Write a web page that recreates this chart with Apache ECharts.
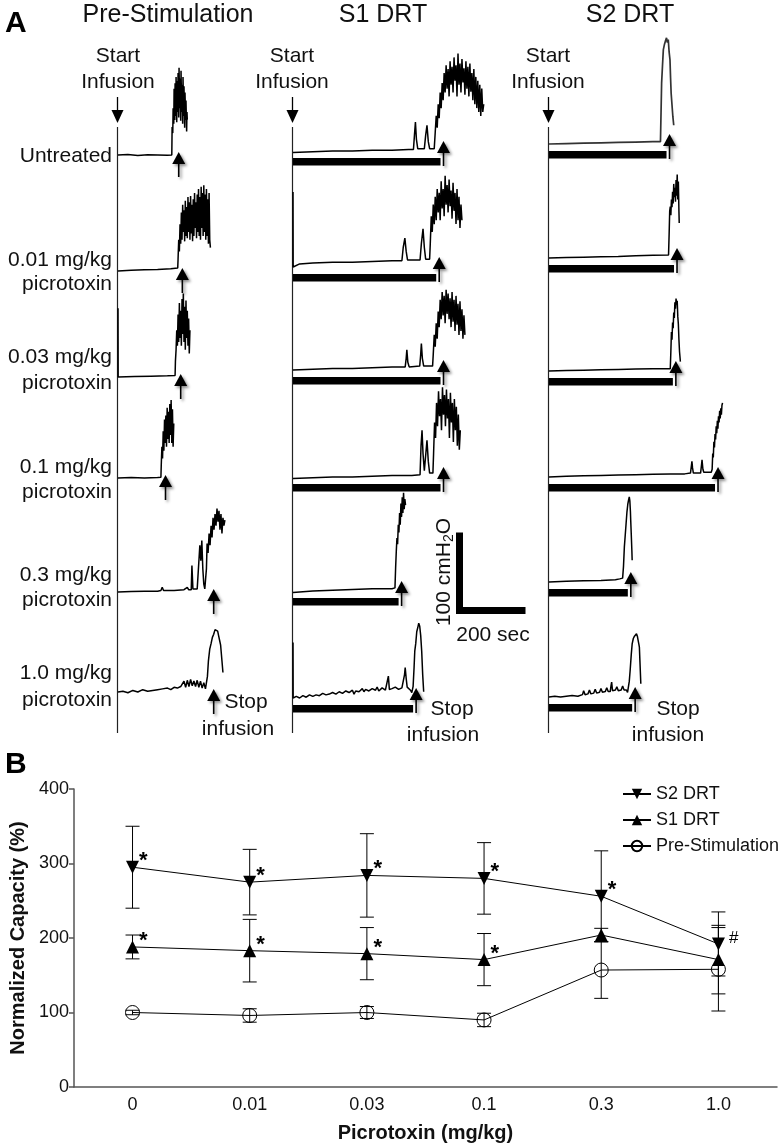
<!DOCTYPE html>
<html><head><meta charset="utf-8">
<script src="https://cdn.jsdelivr.net/npm/echarts/dist/echarts.min.js"></script>
<style>html,body{margin:0;padding:0;background:#fff}#c{width:780px;height:1147px}</style>
</head><body><div id="c"></div>
<script>
// ---------------- DATA ----------------
// Panel A: cystometrogram traces, [time (s), pressure (cmH2O above baseline)]
const rowLabels = [['Untreated'], ['0.01 mg/kg', 'picrotoxin'], ['0.03 mg/kg', 'picrotoxin'], ['0.1 mg/kg', 'picrotoxin'], ['0.3 mg/kg', 'picrotoxin'], ['1.0 mg/kg', 'picrotoxin']];
const columnTitles = ['Pre-Stimulation', 'S1 DRT', 'S2 DRT'];

const preStimTraces = [
  [[0,0],[30,0.5],[60,-0.5],[90,0.3],[120,0],[150,-0.3],[163,0],[164,36],[166,28],[167,60],[169,40],[170,85],[172,45],[173,92],[175,50],[176,100],[178,42],[179,95],[181,55],[182,105],[184,48],[185,112],[187,60],[188,98],[190,44],[191,108],[193,55],[194,90],[196,40],[197,100],[199,50],[200,88],[202,35],[203,80],[205,45],[206,70],[208,30],[209,55],[210,45]],
  [[0,0],[40,1],[80,1.5],[120,2],[160,3],[181,4],[182,15],[184,40],[186,25],[188,60],[190,35],[192,75],[194,40],[196,85],[198,50],[200,78],[202,38],[204,90],[206,45],[208,82],[210,42],[212,95],[214,50],[216,88],[218,40],[220,96],[222,48],[224,85],[226,38],[228,92],[230,45],[232,100],[234,55],[236,88],[238,42],[240,98],[242,50],[244,105],[246,45],[248,95],[250,40],[252,108],[254,55],[256,100],[258,45],[260,110],[262,50],[264,98],[266,40],[268,105],[270,45],[272,92],[274,35],[276,100],[278,40],[280,30]],
  [[0,88],[0.5,0],[50,0.5],[100,1],[150,1.5],[173,2],[174,20],[176,35],[178,60],[180,40],[182,80],[184,45],[186,95],[188,50],[190,85],[192,40],[194,100],[196,55],[198,107],[200,45],[202,90],[204,35],[206,98],[208,50],[210,85],[212,40],[214,75],[216,30],[218,60]],
  [[0,0],[40,0.5],[80,0],[120,0.5],[130,1],[131,15],[133,40],[135,25],[137,60],[139,35],[141,75],[143,45],[145,80],[147,40],[149,90],[151,50],[153,85],[155,45],[157,95],[159,55],[161,100],[163,45],[165,88],[167,40],[169,70]],
  [[0,0],[40,0.5],[80,1],[120,1],[130,2],[134,6],[138,2],[170,2],[200,3],[210,6],[214,3],[222,3],[224,34],[227,4],[240,4],[248,60],[251,40],[254,66],[257,30],[260,10],[263,4],[266,4],[268,30],[270,62],[273,50],[276,75],[279,60],[282,85],[285,70],[288,95],[291,80],[294,100],[297,85],[300,107],[303,90],[306,104],[309,80],[312,100],[315,75],[318,95],[321,85],[324,92]],
  [[0,0],[15,1],[30,-1],[45,2],[60,0],[75,3],[90,1],[105,2],[120,3],[135,4],[150,5],[160,3],[170,6],[180,5],[190,7],[200,14],[205,6],[210,15],[215,7],[220,16],[225,8],[230,14],[235,7],[240,15],[245,6],[250,14],[255,5],[260,12],[265,4],[268,2],[271,20],[274,40],[278,55],[282,62],[286,70],[290,74],[294,80],[298,82],[302,78],[305,72],[308,66],[311,60],[315,40],[318,25]]
];
const s1Traces = [
  [[0,-2],[60,-1],[120,0],[180,0],[240,1],[300,1],[350,2],[365,2],[368,20],[371,37],[374,15],[378,3],[398,3],[402,20],[406,33],[410,12],[414,3],[428,3],[431,24],[434,45],[437,30],[440,60],[443,42],[446,75],[449,55],[452,87],[455,65],[458,100],[461,75],[464,110],[467,80],[470,105],[473,70],[476,115],[479,85],[482,108],[485,75],[488,120],[491,90],[494,110],[497,70],[500,125],[503,85],[506,112],[509,75],[512,118],[515,88],[518,106],[521,72],[524,115],[527,80],[530,108],[533,70],[536,112],[539,76],[542,100],[545,65],[548,105],[551,60],[554,95],[557,55],[560,90],[563,50],[566,85],[569,45],[572,80],[575,50],[578,60]],
  [[0,96],[0.5,0],[20,4],[60,5],[120,6],[180,6],[240,7],[300,8],[330,8],[334,25],[339,37],[343,20],[347,9],[385,9],[389,30],[394,49],[398,25],[402,10],[414,10],[416,30],[419,65],[422,45],[425,80],[428,55],[431,90],[434,60],[437,100],[440,70],[443,95],[446,60],[449,110],[452,75],[455,100],[458,65],[461,117],[464,80],[467,105],[470,70],[473,112],[476,78],[479,98],[482,62],[485,108],[488,72],[491,95],[494,55],[497,100],[500,60],[503,90],[506,50],[509,80],[512,60]],
  [[0,0],[60,1],[120,2],[180,2],[240,3],[300,4],[340,4],[343,15],[345,26],[348,10],[352,4],[384,5],[387,20],[389,34],[392,15],[396,5],[423,5],[425,20],[428,45],[431,30],[434,60],[437,40],[440,75],[443,55],[446,90],[449,65],[452,100],[455,70],[458,95],[461,60],[464,103],[467,72],[470,98],[473,65],[476,92],[479,55],[482,100],[485,62],[488,90],[491,50],[494,95],[497,58],[500,85],[503,45],[506,88],[509,50],[512,78],[515,40],[518,70],[521,45]],
  [[0,-2],[60,-1],[120,0],[180,0],[240,1],[300,2],[360,2],[385,3],[388,40],[391,60],[394,30],[398,8],[402,10],[406,47],[410,20],[414,5],[424,5],[426,30],[429,70],[432,50],[435,95],[438,65],[441,110],[444,78],[447,100],[450,60],[453,115],[456,80],[459,105],[462,65],[465,112],[468,75],[471,100],[474,50],[477,108],[480,70],[483,95],[486,45],[489,100],[492,60],[495,90],[498,40],[501,80],[504,35],[507,60]],
  [[0,-2],[60,0],[120,1],[180,2],[240,3],[300,3],[309,4],[311,30],[313,51],[315,68],[317,60],[319,85],[321,75],[323,100],[325,85],[327,112],[329,95],[331,120],[333,100],[335,126],[337,105],[339,118],[341,110]],
  [[0,71],[0.5,0],[10,2],[20,0],[30,3],[40,1],[50,4],[60,2],[70,4],[80,3],[90,6],[100,4],[110,5],[120,7],[130,5],[140,8],[150,6],[160,9],[170,7],[180,10],[185,5],[190,9],[200,8],[210,12],[215,8],[220,11],[230,9],[240,12],[250,10],[255,14],[260,9],[270,13],[280,10],[286,12],[289,28],[292,11],[300,12],[310,14],[320,11],[330,13],[336,14],[338,30],[340,39],[343,25],[346,14],[352,12],[356,10],[360,7],[364,15],[367,40],[369,60],[372,70],[375,85],[378,90],[381,96],[384,92],[387,80],[390,60],[393,30],[396,8]]
];
const s2Traces = [
  [[0,0],[60,0.5],[120,1],[180,1.5],[240,2],[300,2.5],[360,3],[386,3],[388,40],[390,78],[393,100],[396,121],[400,128],[404,133],[407,136],[410,130],[413,134],[416,118],[419,108],[421,85],[423,65],[426,50],[429,35],[432,24]],
  [[0,0],[60,0.5],[120,1],[180,1.5],[240,2],[300,3],[360,3.5],[414,4],[416,30],[418,60],[420,66],[422,55],[424,75],[426,65],[428,85],[430,70],[432,95],[434,78],[436,90],[438,72],[440,100],[442,80],[444,107],[446,75],[448,98],[450,60],[451,45]],
  [[0,0],[60,0.5],[120,1],[180,1.5],[240,2],[300,2.5],[360,3],[420,3],[422,25],[424,50],[426,40],[428,62],[430,55],[432,75],[434,68],[436,88],[438,80],[440,93],[442,85],[444,90],[446,70],[448,60],[450,40],[452,25],[455,12]],
  [[0,0],[60,1],[120,1.5],[180,2],[240,2.5],[300,3],[360,3.5],[420,4],[470,4],[490,5],[493,14],[495,20],[497,12],[500,5],[525,5],[528,15],[530,22],[533,10],[536,6],[562,6],[565,10],[567,30],[569,25],[571,45],[573,38],[575,55],[577,48],[579,65],[581,56],[583,72],[585,62],[587,78],[589,70],[591,85],[593,75],[595,88],[597,80],[599,92],[601,95]],
  [[0,0],[60,1],[120,1.5],[180,2],[230,3],[245,4],[250,6],[255,5],[258,20],[261,45],[264,60],[267,75],[270,90],[273,100],[276,106],[278,109],[280,104],[282,90],[283,79],[285,60],[287,40],[288,28]],
  [[0,0],[20,1],[40,0],[60,1],[80,2],[100,1],[116,3],[120,8],[125,3],[135,4],[140,9],[145,4],[155,5],[160,10],[165,5],[175,6],[180,11],[185,6],[195,7],[200,12],[205,7],[212,7],[215,15],[217,19],[220,8],[230,9],[235,13],[240,8],[250,9],[255,14],[260,9],[268,9],[272,6],[276,8],[278,20],[281,34],[285,55],[288,68],[292,75],[296,78],[300,80],[303,81],[306,78],[309,72],[311,68],[313,64],[315,45],[318,17]]
];
// time (s) at which infusion was stopped (arrow); S1/S2 also have infusion bars
const preStopTimes = [184, 195, 190, 144, 290, 290];
const s1StopTimes = [447, 434, 447, 447, 320, 364];
const s2StopTimes = [407, 433, 429, 575, 273, 288];
const scaleBar = [200, 100]; // 200 sec, 100 cmH2O

// Panel B
const doseLabels = ['0', '0.01', '0.03', '0.1', '0.3', '1.0'];
const s2Mean = [295, 275, 284, 280, 256, 192];
const s2Err = [55, 44, 56, 48, 61, 43];
const s1Mean = [188, 183, 179, 171, 204, 171];
const s1Err = [16, 42, 35, 35, 9, 46];
const preMean = [100, 96, 100, 90, 157, 158];
const preErr = [3, 9, 8, 9, 38, 56];
const s2Sig = ['*', '*', '*', '*', '*', '#'];
const s1Sig = ['*', '*', '*', '*', '', ''];
const yTicks = [0, 100, 200, 300, 400];

// ---------------- LAYOUT ----------------
const FONT = 'Liberation Sans, Arial, sans-serif';
const PX_PER_S = 0.33, PX_PER_CM = 0.78;
const T_MAX = 800, P_MIN = -40, P_MAX = 160;
const colX = [118, 293, 549];
const colBase = [
  [155, 271, 377, 478, 592, 692],
  [151, 267, 370, 477, 591, 698],
  [144, 258, 371, 477, 582, 697]
];
const traceSets = [preStimTraces, s1Traces, s2Traces];
const stopSets = [preStopTimes, s1StopTimes, s2StopTimes];

const grids = [], xAxes = [], yAxes = [], series = [];
function addTraceGrid(left, base) {
  const idx = grids.length;
  grids.push({left: left, top: base - P_MAX * PX_PER_CM, width: T_MAX * PX_PER_S, height: (P_MAX - P_MIN) * PX_PER_CM, containLabel: false});
  xAxes.push({type: 'value', gridIndex: idx, min: 0, max: T_MAX, show: false});
  yAxes.push({type: 'value', gridIndex: idx, min: P_MIN, max: P_MAX, show: false});
  return idx;
}

function infusionRender(params, api) {
  const stop = api.value(0), hasBar = api.value(1);
  const p0 = api.coord([0, 0]);
  const ps = api.coord([stop, 0]);
  const children = [];
  let ax, tipY, headBase, stemBottom;
  if (hasBar) {
    children.push({type: 'rect', shape: {x: p0[0], y: p0[1] + 7, width: ps[0] - p0[0], height: 7.5}, style: {fill: '#000'}});
    ax = ps[0] + 3; tipY = p0[1] - 10; headBase = p0[1] + 2; stemBottom = p0[1] + 15;
  } else {
    ax = ps[0]; tipY = p0[1] - 3; headBase = p0[1] + 9; stemBottom = p0[1] + 22;
  }
  const sh = {shadowBlur: 3, shadowOffsetX: 2, shadowOffsetY: 2, shadowColor: 'rgba(0,0,0,0.45)'};
  children.push({type: 'line', shape: {x1: ax, y1: headBase, x2: ax, y2: stemBottom}, style: Object.assign({stroke: '#000', lineWidth: 1.6}, sh)});
  children.push({type: 'polygon', shape: {points: [[ax, tipY], [ax - 6.5, headBase], [ax + 6.5, headBase]]}, style: Object.assign({fill: '#000'}, sh)});
  return {type: 'group', children: children};
}

for (let c = 0; c < 3; c++) {
  for (let r = 0; r < 6; r++) {
    const gi = addTraceGrid(colX[c], colBase[c][r]);
    series.push({type: 'line', xAxisIndex: gi, yAxisIndex: gi, data: traceSets[c][r], showSymbol: false, symbol: 'none', clip: false,
      lineStyle: {color: c === 2 && r === 0 ? '#333' : '#000', width: c === 2 && r === 0 ? 1.7 : 1.5}, silent: true, z: 3});
    series.push({type: 'custom', xAxisIndex: gi, yAxisIndex: gi, data: [[stopSets[c][r], c === 0 ? 0 : 1]], encode: {x: 0, y: 1},
      renderItem: infusionRender, clip: false, silent: true, z: 4});
  }
}

// scale bar grid (corner at 459.5, 610.5)
const sgi = addTraceGrid(459.5, 610.5);
series.push({type: 'custom', xAxisIndex: sgi, yAxisIndex: sgi, data: [scaleBar], encode: {x: 0, y: 1}, clip: false, silent: true,
  renderItem: function (params, api) {
    const o = api.coord([0, 0]);
    const h = api.coord([api.value(0), 0]);
    const v = api.coord([0, api.value(1)]);
    return {type: 'group', children: [
      {type: 'line', shape: {x1: o[0], y1: o[1] + 3.5, x2: v[0], y2: v[1]}, style: {stroke: '#000', lineWidth: 7}},
      {type: 'line', shape: {x1: o[0] - 3.5, y1: o[1], x2: h[0], y2: h[1]}, style: {stroke: '#000', lineWidth: 7}}
    ]};
  }});

// Panel B grid
const bgi = grids.length;
grids.push({left: 71, top: 789, right: 3, bottom: 60, containLabel: false});
const axisCol = '#555';
xAxes.push({type: 'category', gridIndex: bgi, data: doseLabels, boundaryGap: true,
  axisLine: {lineStyle: {color: axisCol, width: 1.5}},
  axisTick: {alignWithLabel: true, length: 5, lineStyle: {color: axisCol, width: 1.5}},
  axisLabel: {fontFamily: FONT, fontSize: 18, color: '#111', margin: 9},
  name: 'Picrotoxin (mg/kg)', nameLocation: 'middle', nameGap: 36,
  nameTextStyle: {fontFamily: FONT, fontSize: 20, fontWeight: 'bold', color: '#111'}});
yAxes.push({type: 'value', gridIndex: bgi, min: yTicks[0], max: yTicks[yTicks.length - 1], interval: yTicks[1] - yTicks[0],
  axisLine: {show: true, lineStyle: {color: axisCol, width: 1.5}},
  axisTick: {show: true, length: 5, lineStyle: {color: axisCol, width: 1.5}},
  splitLine: {show: false},
  axisLabel: {fontFamily: FONT, fontSize: 18, color: '#111', margin: 5},
  name: 'Normalized Capacity (%)', nameLocation: 'middle', nameGap: 42,
  nameTextStyle: {fontFamily: FONT, fontSize: 20, fontWeight: 'bold', color: '#111'}});

const errData = [];
[[s2Mean, s2Err], [s1Mean, s1Err], [preMean, preErr]].forEach(function (pair) {
  pair[0].forEach(function (m, i) { errData.push([i, m - pair[1][i], m + pair[1][i]]); });
});
series.push({type: 'custom', name: 'err', xAxisIndex: bgi, yAxisIndex: bgi, data: errData, encode: {x: 0, y: [1, 2]}, z: 2, silent: true,
  renderItem: function (params, api) {
    const lo = api.coord([api.value(0), api.value(1)]);
    const hi = api.coord([api.value(0), api.value(2)]);
    const w = 7, st = {stroke: '#000', lineWidth: 1};
    return {type: 'group', children: [
      {type: 'line', shape: {x1: lo[0], y1: lo[1], x2: hi[0], y2: hi[1]}, style: st},
      {type: 'line', shape: {x1: hi[0] - w, y1: hi[1], x2: hi[0] + w, y2: hi[1]}, style: st},
      {type: 'line', shape: {x1: lo[0] - w, y1: lo[1], x2: lo[0] + w, y2: lo[1]}, style: st}
    ]};
  }});

function sigLabel(arr) {
  return {show: true, position: 'right', distance: 0, offset: [0, -6], color: '#000',
    formatter: function (p) { const s = arr[p.dataIndex]; return s === '#' ? '{h|#}' : (s ? '{s|*}' : ''); },
    rich: {s: {fontFamily: FONT, fontSize: 22, fontWeight: 'bold', color: '#000'}, h: {fontFamily: FONT, fontSize: 17, color: '#000', padding: [0, 0, 0, 4]}}};
}
series.push({type: 'line', name: 'S2 DRT', xAxisIndex: bgi, yAxisIndex: bgi, data: s2Mean, symbol: 'triangle', symbolRotate: 180, symbolSize: 13,
  itemStyle: {color: '#000'}, lineStyle: {color: '#000', width: 1}, label: sigLabel(s2Sig), z: 5});
series.push({type: 'line', name: 'S1 DRT', xAxisIndex: bgi, yAxisIndex: bgi, data: s1Mean, symbol: 'triangle', symbolSize: 13,
  itemStyle: {color: '#000'}, lineStyle: {color: '#000', width: 1}, label: sigLabel(s1Sig), z: 5});
series.push({type: 'line', name: 'Pre-Stimulation', xAxisIndex: bgi, yAxisIndex: bgi, data: preMean, symbol: 'circle', symbolSize: 14,
  itemStyle: {color: 'rgba(255,255,255,0)', borderColor: '#000', borderWidth: 1}, lineStyle: {color: '#000', width: 1}, z: 5});

// ---------------- TEXT / DECORATION ----------------
const graphics = [];
function txt(x, y, s, opt) {
  graphics.push({type: 'text', x: x, y: y, silent: true, style: Object.assign({text: s, fontFamily: FONT, fontSize: 21, fill: '#111', textAlign: 'center', textVerticalAlign: 'middle'}, opt || {})});
}
txt(5, 24, 'A', {fontSize: 30, fontWeight: 'bold', textAlign: 'left', fill: '#000'});
txt(5, 765, 'B', {fontSize: 30, fontWeight: 'bold', textAlign: 'left', fill: '#000'});
const titleX = [168, 383, 630];
columnTitles.forEach(function (t, i) { txt(titleX[i], 15, t, {fontSize: 25}); });
const startX = [118, 292, 548];
colX.forEach(function (x, i) {
  const lx = [117.5, 292.5, 548.5][i];
  txt(startX[i], 56, 'Start', {fontSize: 21});
  txt(startX[i], 82, 'Infusion', {fontSize: 21});
  graphics.push({type: 'line', silent: true, shape: {x1: lx, y1: 97, x2: lx, y2: 112}, style: {stroke: '#000', lineWidth: 1.3}});
  graphics.push({type: 'polygon', silent: true, shape: {points: [[lx - 6, 110], [lx + 6, 110], [lx, 123]]}, style: {fill: '#000'}});
  graphics.push({type: 'line', silent: true, shape: {x1: lx, y1: 127, x2: lx, y2: 733}, style: {stroke: '#222', lineWidth: 1.2}});
});
const labelY = [[156], [260, 284], [357, 383], [467, 492], [575, 600], [673, 700]];
rowLabels.forEach(function (lines, r) {
  lines.forEach(function (l, k) { txt(112, labelY[r][k], l, {textAlign: 'right', fontSize: 21}); });
});
[[246, 702, 238, 729], [452, 709, 443, 735], [678, 709, 668, 735]].forEach(function (p) {
  txt(p[0], p[1], 'Stop', {fontSize: 21});
  txt(p[2], p[3], 'infusion', {fontSize: 21});
});
graphics.push({type: 'text', x: 444, y: 572, rotation: Math.PI / 2, silent: true,
  style: {text: '100 cmH{s|2}O', fontFamily: FONT, fontSize: 21, fill: '#111', textAlign: 'center', textVerticalAlign: 'middle',
    rich: {s: {fontFamily: FONT, fontSize: 14, fill: '#111', padding: [10, 0, 0, 0]}}}});
txt(493, 635, '200 sec', {fontSize: 21});

const chart = echarts.init(document.getElementById('c'), null, {renderer: 'canvas'});
chart.setOption({
  animation: false,
  backgroundColor: '#fff',
  grid: grids, xAxis: xAxes, yAxis: yAxes, series: series,
  legend: {data: ['S2 DRT', 'S1 DRT', 'Pre-Stimulation'], orient: 'vertical', left: 617, top: 780,
    itemWidth: 28, itemHeight: 13, itemGap: 8,
    textStyle: {fontFamily: FONT, fontSize: 18, color: '#111'}, selectedMode: false},
  graphic: graphics
});
</script></body></html>
